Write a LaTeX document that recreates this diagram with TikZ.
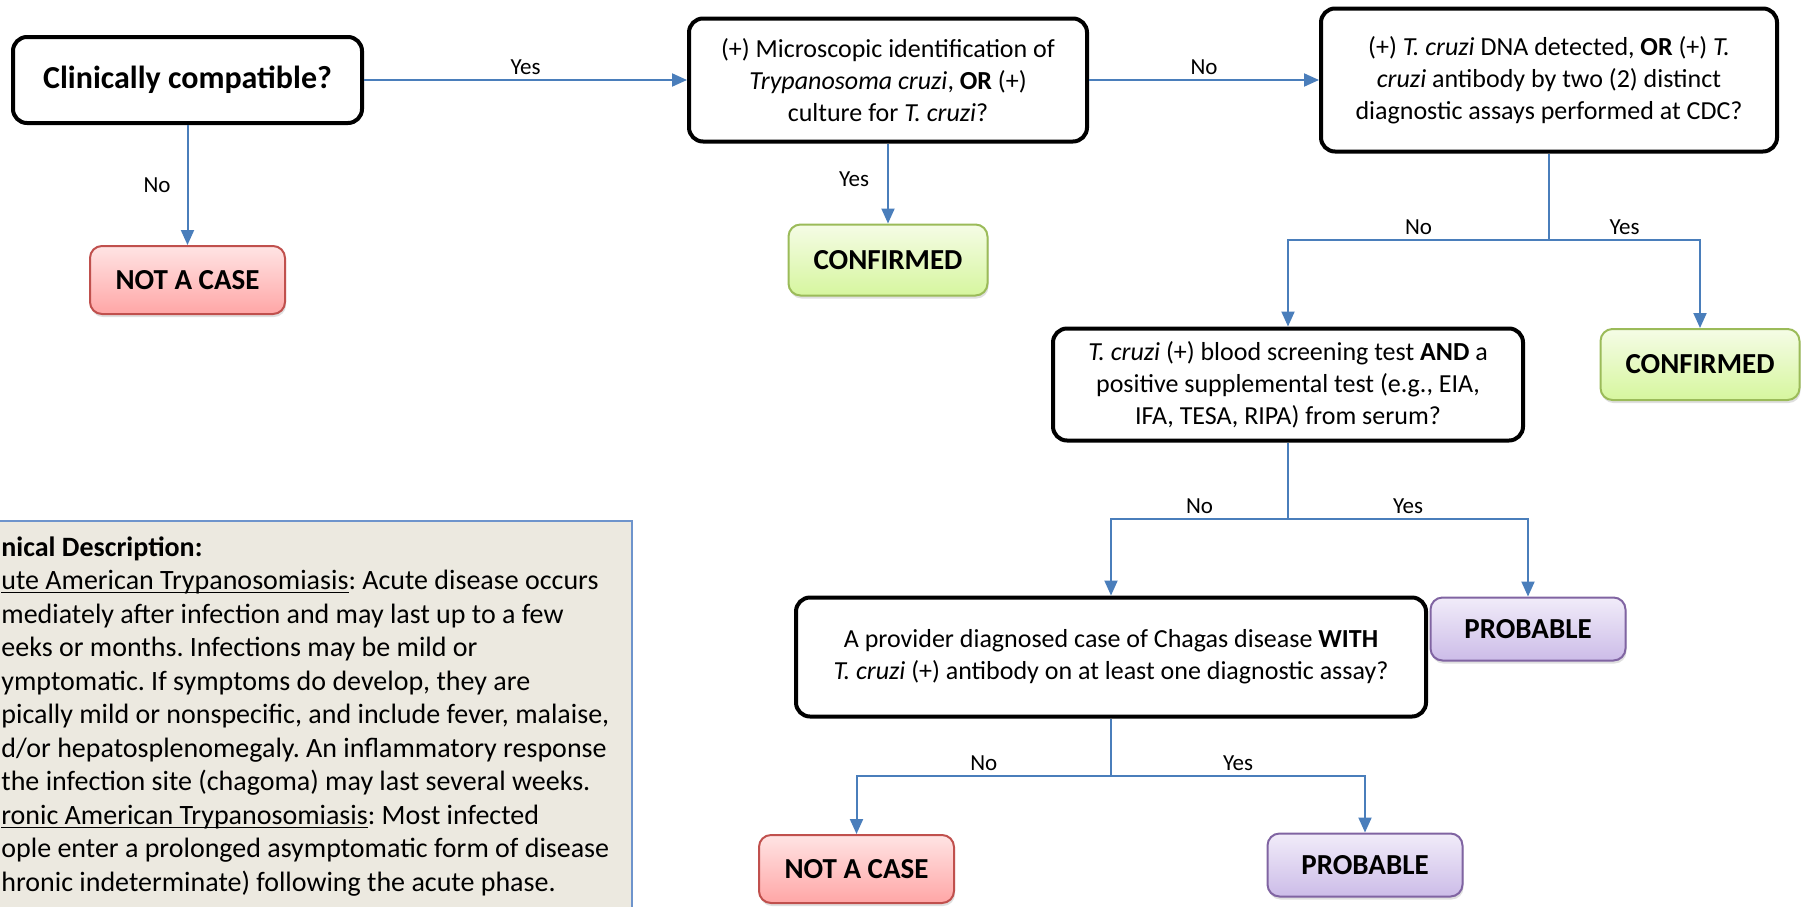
\documentclass[tikz,border=0pt]{standalone}
\usepackage{fontspec}
\setmainfont{Carlito}
\usetikzlibrary{arrows.meta,positioning,shadows}

\definecolor{flowblue}{RGB}{74,126,187}
\definecolor{descline}{RGB}{110,148,204}
\definecolor{descfill}{RGB}{236,233,224}
\definecolor{redline}{RGB}{192,80,77}
\definecolor{redtop}{RGB}{255,228,228}
\definecolor{redbot}{RGB}{255,166,166}
\definecolor{greenline}{RGB}{155,187,89}
\definecolor{greentop}{RGB}{245,252,230}
\definecolor{greenbot}{RGB}{214,246,158}
\definecolor{purpleline}{RGB}{128,100,162}
\definecolor{purpletop}{RGB}{241,236,249}
\definecolor{purplebot}{RGB}{204,188,232}

\newcommand{\lineunder}[1]{\underline{\smash{#1}}}

\begin{document}
\frenchspacing
\begin{tikzpicture}[x=0.5pt,y=-0.5pt,on grid,
  decision/.style={draw=black,line width=2pt,rounded corners=7pt,fill=white,
    align=center,inner sep=2pt,font=\fontsize{13}{16}\selectfont},
  outcome/.style={line width=1pt,rounded corners=6pt,minimum width=97.5pt,minimum height=34pt,
    font=\fontsize{14.5}{17}\selectfont\bfseries,
    drop shadow={opacity=0.25,shadow xshift=0.5pt,shadow yshift=-1.5pt}},
  notcase/.style={outcome,draw=redline,top color=redtop,bottom color=redbot},
  confirmed/.style={outcome,draw=greenline,top color=greentop,bottom color=greenbot,
    minimum width=99.5pt,minimum height=35.5pt},
  probable/.style={outcome,draw=purpleline,top color=purpletop,bottom color=purplebot,
    minimum height=31.5pt},
  flow/.style={draw=flowblue,line width=1pt,-{Triangle[length=7.5pt,width=6.5pt]}},
  lbl/.style={font=\fontsize{11.5}{13}\selectfont,inner sep=2pt}]

\useasboundingbox (0,0) rectangle (1803,906);
\clip (0,0) rectangle (1803,906);
\fill[white] (0,0) rectangle (1803,906);

% clinical description box (cut by the frame)
\path[fill=descfill,draw=descline,line width=0.6pt] (-10,521) rectangle (632,930);
\node[anchor=north west,align=left,inner sep=0pt,font=\fontsize{14}{16.75}\selectfont] (desc) at (1,536)
  {\textbf{nical Description:}\\
   \lineunder{ute American Trypanosomiasis}: Acute disease occurs\\
   mediately after infection and may last up to a few\\
   eeks or months. Infections may be mild or\\
   ymptomatic. If symptoms do develop, they are\\
   pically mild or nonspecific, and include fever, malaise,\\
   d/or hepatosplenomegaly. An inflammatory response\\
   the infection site (chagoma) may last several weeks.\\
   \lineunder{ronic American Trypanosomiasis}: Most infected\\
   ople enter a prolonged asymptomatic form of disease\\
   hronic indeterminate) following the acute phase.};

% questions
\node[decision,minimum width=174.5pt,minimum height=43pt,font=\fontsize{16}{19}\selectfont\bfseries] (clin) at (187.5,80) {Clinically compatible?};
\node[decision,minimum width=199pt,minimum height=61.5pt] (micro) [right=350.25pt of clin]
  {(+) Microscopic identification of\\ \textit{Trypanosoma cruzi}, \textbf{OR} (+)\\ culture for \textit{T. cruzi}?};
\node[decision,minimum width=228pt,minimum height=71.5pt] (dna) [right=330.5pt of micro]
  {(+) \textit{T. cruzi} DNA detected, \textbf{OR} (+) \textit{T.}\\ \textit{cruzi} antibody by two (2) distinct\\ diagnostic assays performed at CDC?};
\node[decision,minimum width=235pt,minimum height=56pt] (screen) [below left=152.25pt and 130.5pt of dna]
  {\textit{T. cruzi} (+) blood screening test \textbf{AND} a\\ positive supplemental test (e.g., EIA,\\ IFA, TESA, RIPA) from serum?};
\node[decision,minimum width=315pt,minimum height=59.5pt] (provider) [below left=136.25pt and 88.5pt of screen]
  {A provider diagnosed case of Chagas disease \textbf{WITH}\\ \textit{T. cruzi} (+) antibody on at least one diagnostic assay?};

% results
\node[notcase] (notcase1) [below=100pt of clin] {NOT A CASE};
\node[confirmed] (conf1) [below=90pt of micro] {CONFIRMED};
\node[confirmed] (conf2) [below right=142.25pt and 75.5pt of dna] {CONFIRMED};
\node[probable] (prob1) [below right=122.25pt and 120pt of screen] {PROBABLE};
\node[notcase] (notcase2) [below left=106pt and 127.25pt of provider] {NOT A CASE};
\node[probable] (prob2) [below right=104pt and 127pt of provider] {PROBABLE};

\coordinate[below=43pt of dna.south] (split1);
\coordinate[below=38pt of screen.south] (split2);
\coordinate[below=28.5pt of provider.south] (split3);

\draw[flow] (clin) -- node[lbl,above] {Yes} (micro);
\draw[flow] (micro) -- node[lbl,above] {No} (dna);
\draw[flow] (clin) -- node[lbl,left=6pt] {No} (notcase1);
\draw[flow] (micro) -- node[lbl,left=7pt,pos=0.45] {Yes} (conf1);
\draw[flow] (dna.south) -- (split1) -| node[lbl,above,pos=0.25] {No} (screen.north);
\draw[flow] (split1) -| node[lbl,above,pos=0.25] {Yes} (conf2.north);
\draw[flow] (screen.south) -- (split2) -| node[lbl,above,pos=0.25] {No} (provider.north);
\draw[flow] (split2) -| node[lbl,above,pos=0.25] {Yes} (prob1.north);
\draw[flow] (provider.south) -- (split3) -| node[lbl,above,pos=0.25] {No} (notcase2.north);
\draw[flow] (split3) -| node[lbl,above,pos=0.25] {Yes} (prob2.north);

\end{tikzpicture}
\end{document}
